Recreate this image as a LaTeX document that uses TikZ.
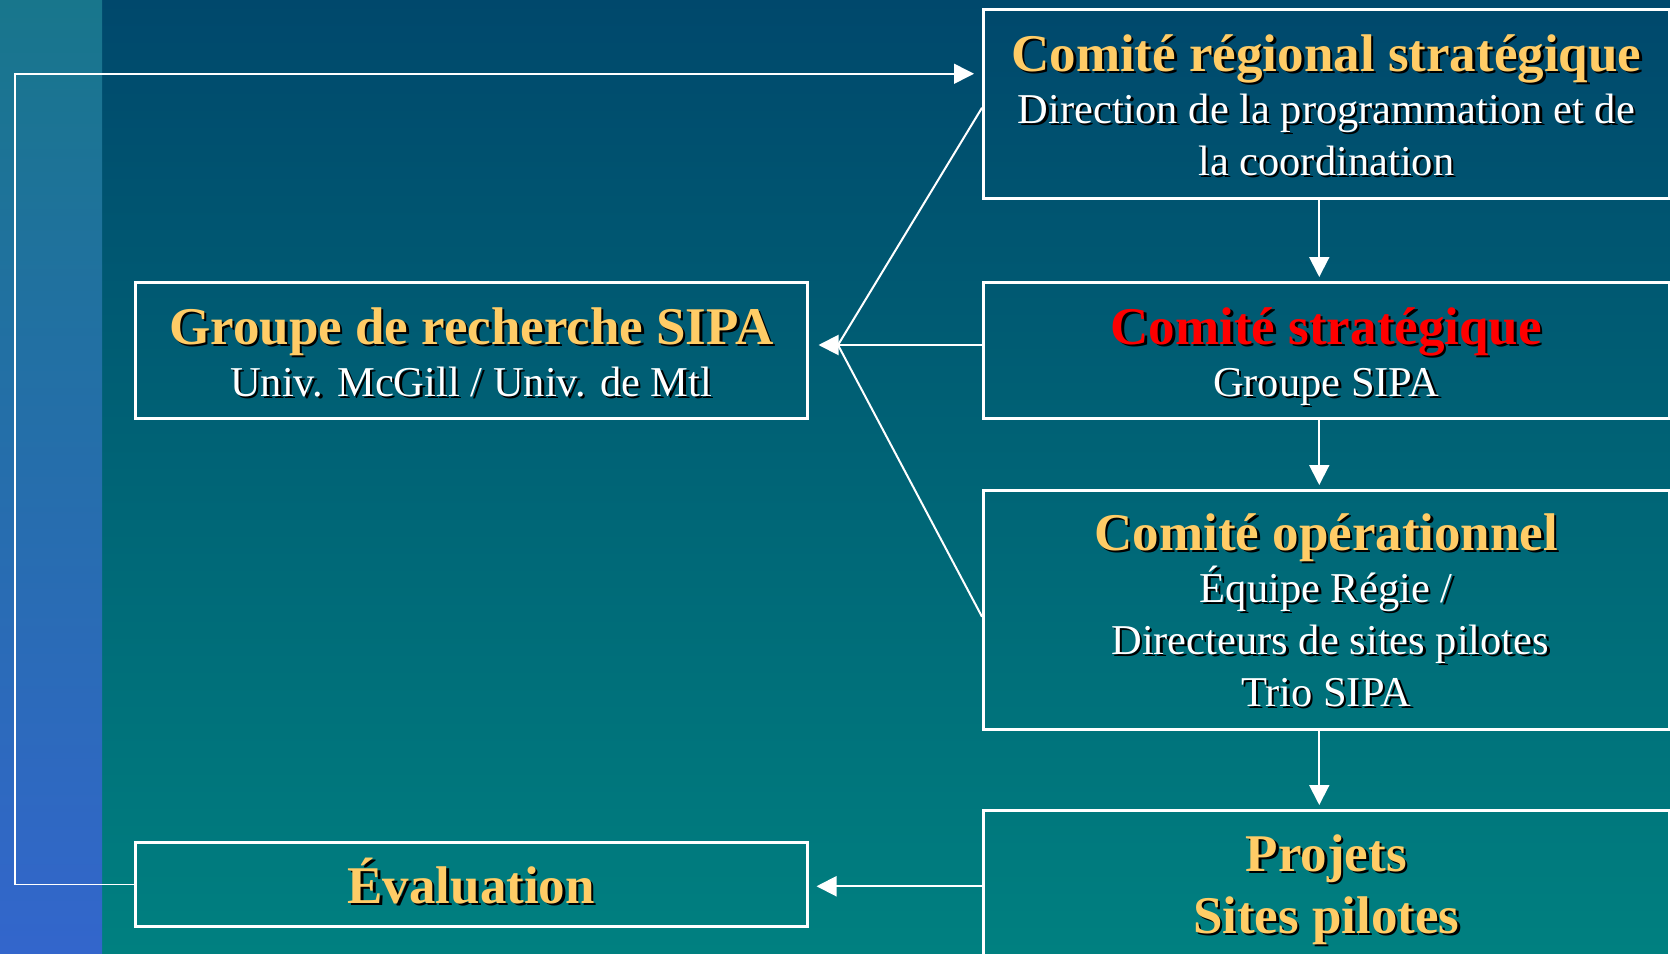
\documentclass[tikz,border=0pt]{standalone}
\usepackage{fontspec}
\setmainfont{Liberation Serif}
\usetikzlibrary{arrows.meta,calc}

\definecolor{bgtop}{RGB}{0,72,108}
\definecolor{bgbot}{RGB}{0,128,128}
\definecolor{striptop}{RGB}{24,118,140}
\definecolor{stripbot}{RGB}{51,102,204}
\definecolor{ttlgold}{RGB}{255,204,102}
\definecolor{ttlred}{RGB}{255,0,0}

\newcommand\boxtitlefont{\fontsize{53}{58}\selectfont\bfseries}
\newcommand\boxsubfont{\fontsize{42.5}{52}\selectfont}
\newcommand\shadowtext[1]{\leavevmode\rlap{\kern2.5pt\raisebox{-2.5pt}{\color{black}#1}}#1}
\newcommand\boxtitle[2][ttlgold]{{\boxtitlefont\color{#1}\shadowtext{#2}}}

\begin{document}
\begin{tikzpicture}[x=1pt, y=-1pt,
	box/.style={draw=white, line width=2.5pt, anchor=north west, inner sep=0pt},
	boxtext/.style={anchor=base, align=center, text=white, font=\boxsubfont, inner sep=0pt},
	link/.style={draw=white, line width=2pt},
	tip/.style={link, -{Triangle[length=20pt, width=20pt]}}]
			\def\W{1670}
			\def\H{953}
			\useasboundingbox (0,0) rectangle (\W,\H);
			\clip (0,0) rectangle (\W,\H);
			
			% Draw background
			\shade[top color=bgtop, bottom color=bgbot] (0,0) rectangle (\W,\H);
			\shade[top color=striptop, bottom color=stripbot] (0,0) rectangle (102,\H);
			
			% Right column
			\node[box, minimum width=686pt, minimum height=189pt] (crs) at (982,8) {};
			\node[box, minimum width=686pt, minimum height=136pt] (cs) at (982,281) {};
			\node[box, minimum width=686pt, minimum height=239pt] (ops) at (982,489) {};
			\node[box, minimum width=686pt, minimum height=152pt] (proj) at (982,809) {};
			
			% Left column
			\node[box, minimum width=672pt, minimum height=136pt] (grp) at (134,281) {};
			\node[box, minimum width=672pt, minimum height=84pt] (eval) at (134,841) {};
			
			% Box texts, placed by the baseline of their last line
			\node[boxtext] (crs-txt) at (crs.north |- 0,175)
				{\boxtitle{Comité régional stratégique}\\
				 \shadowtext{Direction de la programmation et de}\\
				 \shadowtext{la coordination}};
			\node[boxtext] (cs-txt) at (cs.north |- 0,396)
				{\boxtitle[ttlred]{Comité stratégique}\\
				 \shadowtext{Groupe SIPA}};
			\node[boxtext] (ops-txt) at (ops.north |- 0,706)
				{\boxtitle{Comité opérationnel}\\
				 \shadowtext{Équipe Régie /}\\
				 \hspace*{8pt}\shadowtext{Directeurs de sites pilotes}\\
				 \shadowtext{Trio SIPA}};
			\node[boxtext] (proj-txt) at (proj.north |- 0,933)
				{\boxtitle{Projets}\\[10pt]
				 \boxtitle{Sites pilotes}};
			\node[boxtext] (grp-txt) at (grp.north |- 0,396)
				{\boxtitle{Groupe de recherche SIPA}\\
				 \shadowtext{Univ. McGill / Univ. de Mtl}};
			\node[boxtext] (eval-txt) at (eval.north |- 0,903)
				{\boxtitle{Évaluation}};
			
			% Draw arrows down the right column
			\draw[tip, shorten >=4pt] ([xshift=-7pt]crs.south) -- ([xshift=-7pt]cs.north);
			\draw[tip, shorten >=4pt] ([xshift=-7pt]cs.south) -- ([xshift=-7pt]ops.north);
			\draw[tip, shorten >=4pt] ([xshift=-7pt]ops.south) -- ([xshift=-7pt]proj.north);
			
			% Committees feed the research group
			\coordinate (m) at (838,345);
			\draw[link] ([yshift=-4pt]crs.west) -- (m) -- ([yshift=-7pt]ops.west);
			\draw[link] (m -| cs.west) -- (m);
			\draw[tip, shorten >=10pt] (m) -- (m -| grp.east);
			
			% Evaluation loop
			\coordinate (c) at (15,0);
			\draw[tip, shorten >=8pt] (proj.west) -- (proj.west -| eval.east);
			\draw[tip, line width=1.5pt, shorten >=8pt] (eval.west) -- (eval.west -| c) |- ([yshift=30pt]crs.west);
	\end{tikzpicture}
\end{document}
